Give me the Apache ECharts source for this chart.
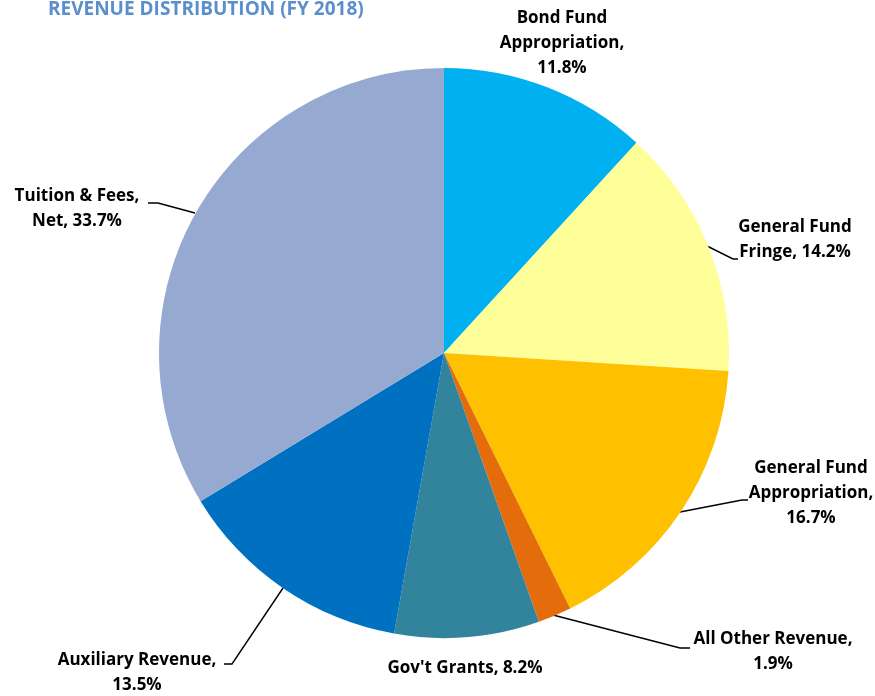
<!DOCTYPE html>
<html><head><meta charset="utf-8">
<script src="https://cdn.jsdelivr.net/npm/echarts@6/dist/echarts.min.js"></script>
<style>html,body{margin:0;padding:0;background:#fff}#c{width:875px;height:696px}</style>
</head><body><div id="c"></div>
<script>
const categories = ["Bond Fund Appropriation","General Fund Fringe","General Fund Appropriation","All Other Revenue","Gov't Grants","Auxiliary Revenue","Tuition & Fees, Net"];
const labelNames = ["Bond Fund\nAppropriation,","General Fund\nFringe,","General Fund\nAppropriation,","All Other Revenue,","Gov't Grants,","Auxiliary Revenue,","Tuition & Fees,\nNet,"];
const values = [11.8, 14.2, 16.7, 1.9, 8.2, 13.5, 33.7];
const colors = ["#00B0F0","#FFFF99","#FFC000","#E46C0A","#31849B","#0070C0","#95A9D1"];

// label placement (annotation layout)
const labelPos = [
  {x:562, y:43, line:null, sep:'\n'},
  {x:795, y:240, line:[[707,246],[733,259],[738,259]], sep:' '},
  {x:811, y:493, line:[[680,512],[742,500],[748,500]], sep:'\n'},
  {x:773, y:652, line:[[553,615],[680,648],[690,648]], sep:'\n'},
  {x:465, y:668, line:null, sep:' '},
  {x:137, y:673, line:[[283,588],[232,664],[224,664]], sep:'\n'},
  {x:77, y:209, line:[[195,213],[158,203],[148,203]], sep:' '}
];

const chart = echarts.init(document.getElementById('c'));
chart.setOption({
  animation:false,
  title:{text:'REVENUE DISTRIBUTION (FY 2018)', left:43, top:-5,
    textStyle:{color:'#5B8FCC', fontSize:19, fontWeight:'bold', fontFamily:'Open Sans'}},
  series:[{
    type:'pie',
    center:[444,353],
    radius:285,
    startAngle:90,
    clockwise:true,
    avoidLabelOverlap:false,
    itemStyle:{borderWidth:0},
    label:{
      show:true,
      position:'outside',
      color:'#000',
      fontFamily:'Open Sans',
      fontWeight:'bold',
      fontSize:17,
      lineHeight:25,
      align:'center',
      formatter:function(p){
        return labelNames[p.dataIndex] + labelPos[p.dataIndex].sep + p.value.toFixed(1) + '%';
      }
    },
    labelLine:{show:true, lineStyle:{color:'#000', width:1.4}},
    labelLayout:function(p){
      const lp = labelPos[p.dataIndex];
      const r = {x:lp.x, y:lp.y, align:'center', verticalAlign:'middle'};
      if(lp.line) r.labelLinePoints = lp.line;
      return r;
    },
    data: categories.map((c,i)=>({
      name:c, value:values[i],
      itemStyle:{color:colors[i]},
      labelLine:{show: !!labelPos[i].line}
    }))
  }]
});
</script>
</body></html>
